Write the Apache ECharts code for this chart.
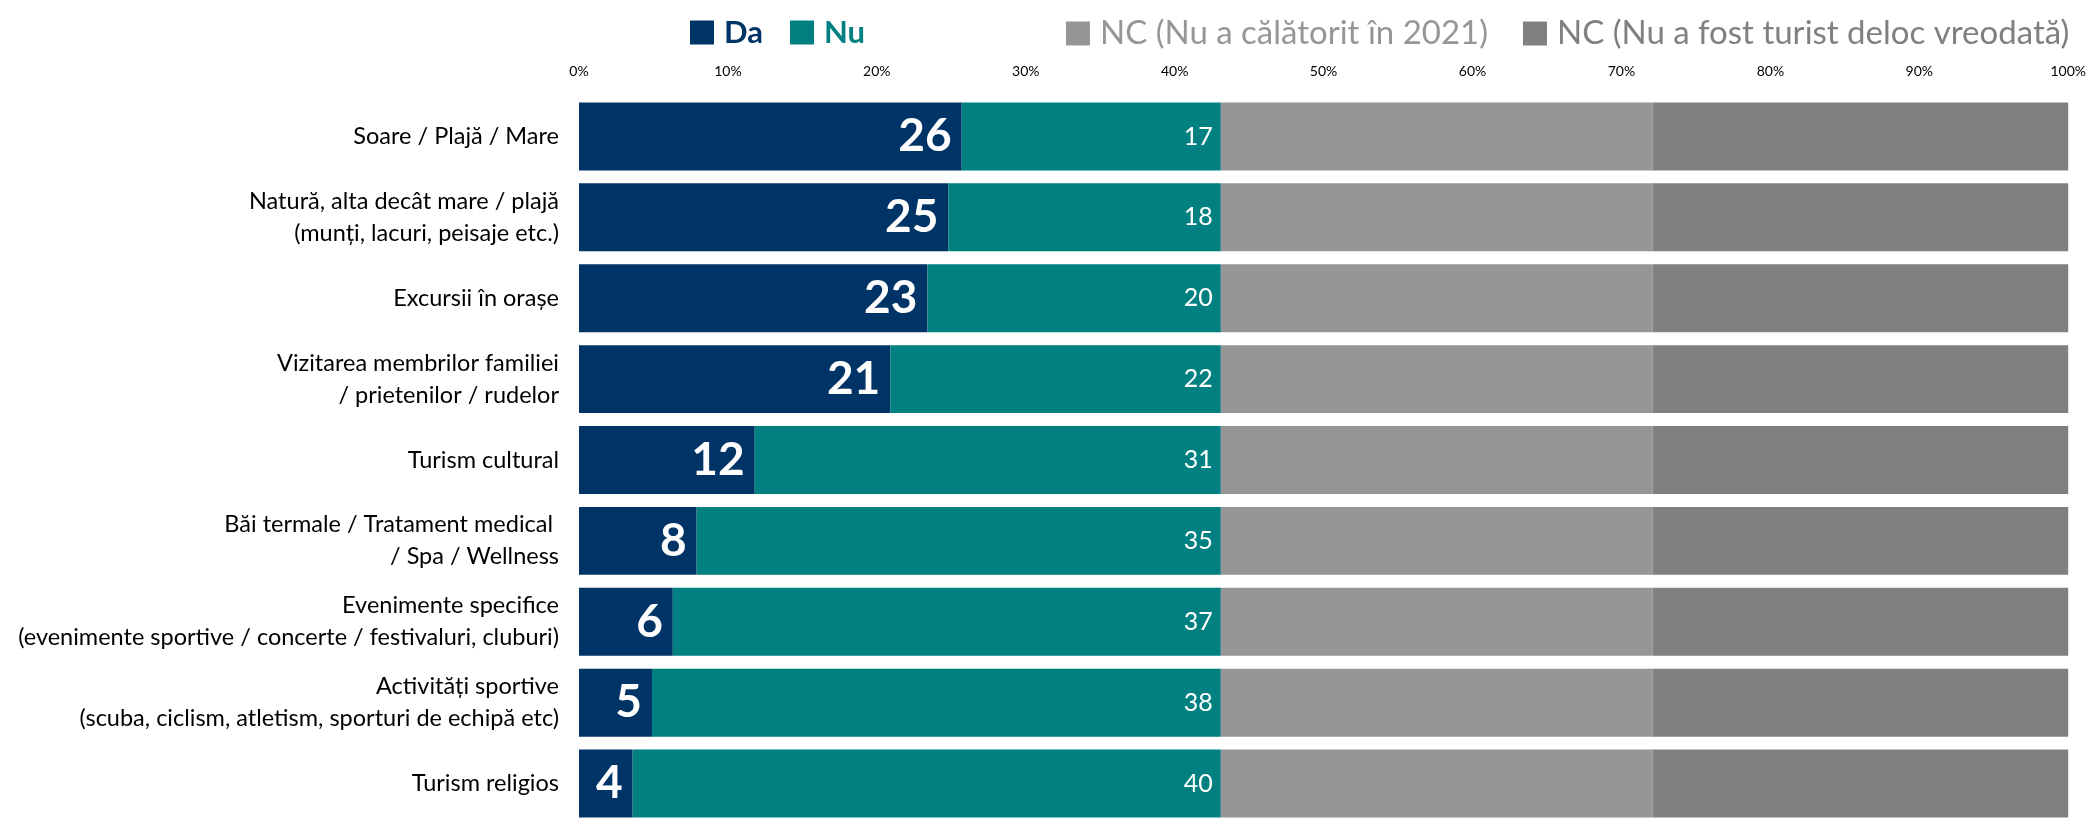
<!DOCTYPE html>
<html>
<head>
<meta charset="utf-8">
<script src="https://cdn.jsdelivr.net/npm/echarts@6/dist/echarts.min.js"></script>
<style>
  html, body { margin: 0; padding: 0; background: #fff; }
  #chart { width: 2089px; height: 824px; }
</style>
</head>
<body>
<div id="chart"></div>
<script>
// categorii (de sus in jos)
const categories = [
  'Soare / Plajă / Mare',
  'Natură, alta decât mare / plajă\n(munți, lacuri, peisaje etc.)',
  'Excursii în orașe',
  'Vizitarea membrilor familiei\n/ prietenilor / rudelor',
  'Turism cultural',
  'Băi termale / Tratament medical \n/ Spa / Wellness',
  'Evenimente specifice\n(evenimente sportive / concerte / festivaluri, cluburi)',
  'Activități sportive\n(scuba, ciclism, atletism, sporturi de echipă etc)',
  'Turism religios'
]
// procente
const daValues = [25.7, 24.8, 23.4, 20.9, 11.8, 7.9, 6.3, 4.9, 3.6]
const nuValues = [17.4, 18.3, 19.7, 22.2, 31.3, 35.2, 36.8, 38.2, 39.5]
const ncCalatoritValues = [29.0, 29.0, 29.0, 29.0, 29.0, 29.0, 29.0, 29.0, 29.0]
const ncTuristValues = [27.9, 27.9, 27.9, 27.9, 27.9, 27.9, 27.9, 27.9, 27.9]
const seriesNames = ['Da', 'Nu', 'NC (Nu a călătorit în 2021)', 'NC (Nu a fost turist deloc vreodată)']
const xTicks = { min: 0, max: 100, interval: 10 }

const FONT = 'Lato'
const colors = ['#003366', '#008080', '#969696', '#808080']

const myChart = echarts.init(document.getElementById('chart'))

const legendLeft = [690, 790, 1066, 1523]
const legendText = [
  { color: '#003366', fontWeight: 'bold', fontSize: 31 },
  { color: '#008080', fontWeight: 'bold', fontSize: 31 },
  { color: '#969696', fontSize: 33 },
  { color: '#808080', fontSize: 33 }
]

myChart.setOption({
  animation: false,
  textStyle: { fontFamily: FONT },
  color: colors,
  legend: seriesNames.map((name, i) => ({
    data: [name],
    left: legendLeft[i],
    top: 17,
    padding: 0,
    icon: 'rect',
    itemWidth: 24,
    itemHeight: 24,
    selectedMode: false,
    textStyle: Object.assign({ fontFamily: FONT, padding: [0, 0, 0, 5] }, legendText[i])
  })),
  grid: {
    left: 579,
    right: 20,
    top: 96,
    height: 741
  },
  xAxis: {
    type: 'value',
    position: 'top',
    min: xTicks.min,
    max: xTicks.max,
    interval: xTicks.interval,
    axisLine: { show: false },
    axisTick: { show: false },
    splitLine: { show: false },
    axisLabel: {
      formatter: '{value}%',
      color: '#000',
      fontSize: 14,
      margin: 18,
      fontFamily: FONT
    }
  },
  yAxis: {
    type: 'category',
    inverse: true,
    data: categories,
    axisLine: { show: false },
    axisTick: { show: false },
    axisLabel: {
      color: '#000',
      fontSize: 23.5,
      lineHeight: 32,
      margin: 20,
      align: 'right',
      fontFamily: FONT
    }
  },
  series: [
    {
      name: seriesNames[0],
      type: 'bar',
      stack: 'total',
      barCategoryGap: '16%',
      data: daValues,
      label: {
        show: true,
        position: 'insideRight',
        distance: 10,
        color: '#fff',
        fontWeight: 'bold',
        fontSize: 46,
        fontFamily: FONT,
        formatter: (p) => Math.round(p.value)
      }
    },
    {
      name: seriesNames[1],
      type: 'bar',
      stack: 'total',
      data: nuValues,
      label: {
        show: true,
        position: 'insideRight',
        distance: 8,
        color: '#fff',
        fontSize: 25,
        fontFamily: FONT,
        formatter: (p) => Math.round(p.value)
      }
    },
    {
      name: seriesNames[2],
      type: 'bar',
      stack: 'total',
      data: ncCalatoritValues
    },
    {
      name: seriesNames[3],
      type: 'bar',
      stack: 'total',
      data: ncTuristValues
    }
  ]
})

window.addEventListener('resize', () => {
  myChart.resize()
})
</script>
</body>
</html>
